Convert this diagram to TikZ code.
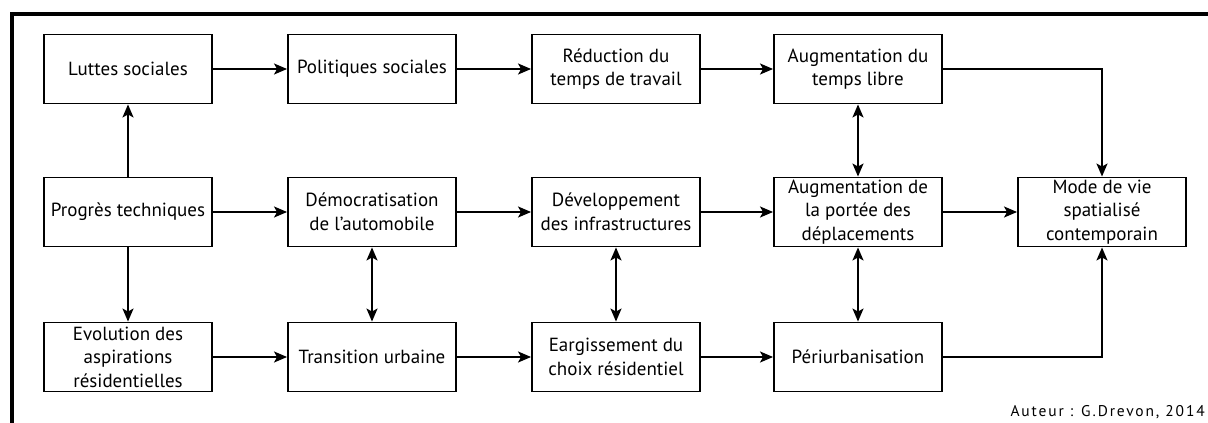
\documentclass[tikz,border=0pt]{standalone}
\usepackage{fontspec}
\setmainfont{PT Sans}
\usetikzlibrary{arrows.meta}
\begin{document}
\begin{tikzpicture}[x=1pt,y=-1pt,
  box/.style={draw, line width=1.9pt, minimum width=168pt, minimum height=69pt, inner sep=0pt, align=center,
    font=\fontsize{19}{23.5}\selectfont},
  arr/.style={line width=1.9pt, -{Stealth[length=13pt,width=11pt,inset=3pt]}},
  darr/.style={line width=1.9pt, {Stealth[length=13pt,width=11pt,inset=3pt]}-{Stealth[length=13pt,width=11pt,inset=3pt]}},
  ln/.style={line width=1.9pt}]
\useasboundingbox (0,0) rectangle (1208,423);
\draw[line width=3.5pt] (12,430) -- (12,14) -- (1215,14);
% row 1
\node[box] (luttes) at (128,69) {Luttes sociales};
\node[box] (polit) at (372,69) {Politiques sociales};
\node[box] (reduc) at (616,69) {Réduction du\\temps de travail};
\node[box] (augl) at (858,69) {Augmentation du\\temps libre};
% row 2
\node[box] (prog) at (128,212) {Progrès techniques};
\node[box] (demo) at (372,212) {Démocratisation\\de l’automobile};
\node[box] (dev) at (616,212) {Développement\\des infrastructures};
\node[box] (augp) at (858,212) {Augmentation de\\la portée des\\déplacements};
\node[box] (mode) at (1102,212) {Mode de vie\\spatialisé\\contemporain};
% row 3
\node[box] (evol) at (128,357) {Evolution des\\aspirations\\résidentielles};
\node[box] (trans) at (372,357) {Transition urbaine};
\node[box] (earg) at (616,357) {Eargissement du\\choix résidentiel};
\node[box] (peri) at (858,357) {Périurbanisation};
\node[anchor=east, inner sep=0pt, font=\fontsize{15.5}{17}\selectfont\addfontfeature{LetterSpace=12}] (auteur) at (1205,412) {Auteur : G.Drevon, 2014};
% arrows
\draw[arr] (luttes) -- (polit);
\draw[arr] (polit) -- (reduc);
\draw[arr] (reduc) -- (augl);
\draw[arr] (prog) -- (luttes);
\draw[arr] (prog) -- (demo);
\draw[arr] (prog) -- (evol);
\draw[arr] (demo) -- (dev);
\draw[arr] (dev) -- (augp);
\draw[arr] (augp) -- (mode);
\draw[arr] (evol) -- (trans);
\draw[arr] (trans) -- (earg);
\draw[arr] (earg) -- (peri);
\draw[darr] (demo) -- (trans);
\draw[darr] (dev) -- (earg);
\draw[darr] (augl) -- (augp);
\draw[darr] (augp) -- (peri);
\draw[arr] (augl.east) -| (mode.north);
\draw[arr] (peri.east) -| (mode.south);
\end{tikzpicture}
\end{document}
